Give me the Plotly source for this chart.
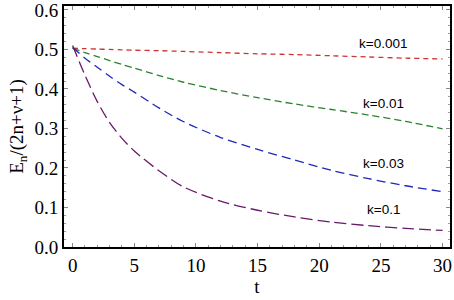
import plotly.graph_objects as go

t = [0, 1, 2, 3, 4, 5, 7, 9, 12, 15, 18, 21, 24, 27, 30]
k_0001 = [0.503, 0.502, 0.501, 0.500, 0.499, 0.498, 0.497, 0.495, 0.492, 0.489, 0.487, 0.484, 0.481, 0.478, 0.476]
k_001 = [0.503, 0.492, 0.482, 0.472, 0.462, 0.453, 0.434, 0.417, 0.396, 0.378, 0.362, 0.348, 0.334, 0.318, 0.299]
k_003 = [0.505, 0.478, 0.455, 0.432, 0.411, 0.392, 0.352, 0.317, 0.277, 0.247, 0.220, 0.194, 0.173, 0.155, 0.140]
k_01 = [0.510, 0.435, 0.368, 0.315, 0.275, 0.243, 0.193, 0.152, 0.116, 0.093, 0.076, 0.063, 0.054, 0.047, 0.042]

series = [
    ("k=0.001", k_0001, "rgb(204,51,51)", "5px,4px"),
    ("k=0.01", k_001, "rgb(46,130,46)", "7px,4px"),
    ("k=0.03", k_003, "rgb(30,40,185)", "9px,5px"),
    ("k=0.1", k_01, "rgb(105,25,105)", "12px,5px"),
]
label_t = [25.2, 25.2, 25.2, 25.2]
label_v = [0.515, 0.364, 0.211, 0.094]

SERIF = "serif"

fig = go.Figure()
for (name, vals, col, dash) in series:
    fig.add_trace(go.Scatter(x=t, y=vals, mode="lines", name=name,
                             line=dict(color=col, width=1.3, dash=dash, shape="spline", smoothing=0.8)))

for (name, _, _, _), lx, ly in zip(series, label_t, label_v):
    fig.add_annotation(x=lx, y=ly, text=name, showarrow=False,
                       font=dict(family="Liberation Sans", size=13.5, color="black"))

axis_common = dict(showline=True, linecolor="black", linewidth=2, mirror="ticks",
                   ticks="inside", ticklen=4, tickcolor="#888", tickwidth=1,
                   showgrid=False, zeroline=False, ticklabeloverflow="allow",
                   tickfont=dict(family=SERIF, size=19, color="black"))

fig.update_xaxes(range=[-0.7, 30.6], tickvals=[0, 5, 10, 15, 20, 25, 30],
                 minor=dict(dtick=1, ticks="inside", ticklen=2, tickcolor="#999", showgrid=False),
                 title=dict(text="t", font=dict(family=SERIF, size=19, color="black"), standoff=4),
                 **axis_common)
fig.update_yaxes(range=[0, 0.61], tickvals=[0, 0.1, 0.2, 0.3, 0.4, 0.5, 0.6], tickformat=".1f",
                 minor=dict(dtick=0.02, ticks="inside", ticklen=2, tickcolor="#999", showgrid=False),
                 title=dict(text="E<sub>n</sub>/(2n+ν+1)", font=dict(family=SERIF, size=19, color="black"), standoff=6),
                 **axis_common)

fig.update_layout(width=454, height=300, margin=dict(l=64, r=4, t=6, b=53, autoexpand=False),
                  font=dict(family=SERIF),
                  paper_bgcolor="white", plot_bgcolor="white", showlegend=False)

fig.write_html("out.html", config={"displayModeBar": False},
               post_script="document.body.style.margin='0';")
